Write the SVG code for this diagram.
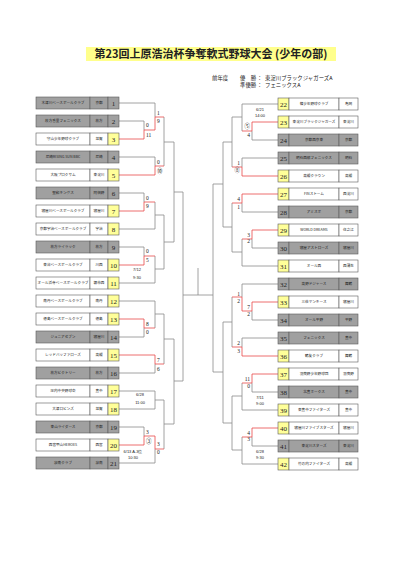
<svg xmlns="http://www.w3.org/2000/svg" width="401" height="568" viewBox="0 0 401 568">
<style>
text{font-family:"Noto Sans CJK JP","Noto Sans",sans-serif;fill:#222}
.c{stroke:#5a5a5a;stroke-width:0.6}
.g{fill:#a0a0a0}
.w{fill:#ffffff}
.y{fill:#ffff99}
.nm{font-size:3.6px;text-anchor:middle}
.pl{font-size:3.6px;text-anchor:middle}
.no{font-family:"Liberation Serif",serif;font-size:7px;text-anchor:middle}
.sl{font-family:"Liberation Serif","Noto Sans CJK JP",serif;font-size:5.5px;text-anchor:start}
.sr{font-family:"Liberation Serif","Noto Sans CJK JP",serif;font-size:5.5px;text-anchor:end}
.dt{font-family:"Liberation Sans",sans-serif;font-size:4px;text-anchor:middle}
.hd{font-size:5.4px}
#lines path{fill:none;stroke-width:0.8}
.gl{stroke:#8a8a8a}
.rl{stroke:#e84a4a}
</style>

<rect x="86" y="47" width="250" height="14" fill="#ffff8c"/>
<text x="211" y="58" font-size="11" font-weight="bold" text-anchor="middle">第23回上原浩治杯争奪軟式野球大会 (少年の部)</text>

<g id="header">
<text class="hd" x="212" y="80">前年度</text>
<text class="hd" x="240" y="80">優　勝</text>
<text class="hd" x="257" y="80">：</text>
<text class="hd" x="265" y="80">東淀川ブラックジャガーズA</text>
<text class="hd" x="240" y="87">準優勝</text>
<text class="hd" x="257" y="87">：</text>
<text class="hd" x="265" y="87">フェニックスA</text>
</g>

<g id="lines">
<path class="gl" d="M119,103H155V117 M119,121H144V130 M164,117V166 M164,142H174
M119,157H155V166 M119,193H144V202 M119,229H155 M155,202V229 M155,215H164
M119,247H144V256 M119,283H155 M155,256V283 M155,269H164 M164,215V269 M164,242H174
M174,142V242 M174,192H183
M119,301H155 M155,301V328 M155,314H164 M119,337H144V328 M119,373H155V364
M164,314V364 M164,339H174
M119,391H155 M119,409H155 M155,391V409 M155,400H164 M119,427H144V436 M119,463H155V449
M164,400V449 M164,424H174 M174,339V424 M174,381H183 M183,192V381
M183,295H213 M198,268V295
M278,104H242 M242,104V131 M242,117H232 M278,140H252V131
M278,158H242V167 M232,117V167 M232,142H223
M278,212H242V203 M278,248H252V239 M278,266H242 M242,239V266 M242,252H232
M232,203V252 M232,227H223 M223,142V227 M223,184H213
M278,284H242V297 M278,320H252V311 M278,338H242V347 M232,297V347 M232,322H223
M278,392H252V383 M278,410H242 M242,383V410 M242,396H232
M278,446H252V437 M278,464H242 M242,437V464 M242,450H232
M232,396V450 M232,423H223 M223,322V423 M223,372H213 M213,184V372"/>
<path class="rl" d="M119,139H144V130H155V117H164 M119,175H155V166H164
M119,211H144V202H155 M119,265H144V256H155 M119,319H144V328H155
M119,355H155V364H164 M119,445H144V436H155V449H164
M278,122H252V131H242 M278,176H242V167H232 M278,194H242V203H232
M278,230H252V239H242 M278,302H252V311H242V297H232 M278,356H242V347H232
M278,374H252V383H242 M278,428H252V437H242"/>
</g>

<g id="scores">
<text class="sl" x="146" y="127">0</text><text class="sl" x="146" y="137">11</text>
<text class="sl" x="157" y="115">1</text><text class="sl" x="157" y="123">9</text>
<text class="sl" x="157" y="164">0</text><text class="sl" x="157" y="173">⑩</text>
<text class="sl" x="146" y="200">0</text><text class="sl" x="146" y="208">9</text>
<text class="sl" x="146" y="253">0</text><text class="sl" x="146" y="262">5</text>
<text class="sl" x="146" y="326">8</text><text class="sl" x="146" y="334">0</text>
<text class="sl" x="157" y="362">7</text><text class="sl" x="157" y="371">6</text>
<text class="sl" x="146" y="434">3</text><text class="sl" x="146" y="443">③</text>
<text class="sl" x="157" y="446">3</text><text class="sl" x="157" y="454">0</text>
<text class="sr" x="250" y="128">⑤</text><text class="sr" x="250" y="137">4</text>
<text class="sr" x="240" y="165">1</text><text class="sr" x="240" y="172">⑧</text>
<text class="sr" x="240" y="201">4</text><text class="sr" x="240" y="209">1</text>
<text class="sr" x="250" y="237">3</text><text class="sr" x="250" y="243">2</text>
<text class="sr" x="240" y="296">1</text><text class="sr" x="240" y="303">2</text>
<text class="sr" x="250" y="309">7</text><text class="sr" x="250" y="316">2</text>
<text class="sr" x="240" y="345">2</text><text class="sr" x="240" y="353">3</text>
<text class="sr" x="250" y="381">11</text><text class="sr" x="250" y="388">0</text>
<text class="sr" x="250" y="435">4</text><text class="sr" x="250" y="441">3</text>
</g>

<g id="dates">
<text class="dt" x="260" y="110.5">6/21</text><text class="dt" x="260" y="116.5">14:00</text>
<text class="dt" x="137" y="271">7/12</text><text class="dt" x="137" y="278.5">9:30</text>
<text class="dt" x="140" y="395.5">6/28</text><text class="dt" x="140" y="404">11:00</text>
<text class="dt" x="133" y="453">6/13 A-3位</text><text class="dt" x="133" y="459">10:30</text>
<text class="dt" x="260" y="398.5">7/11</text><text class="dt" x="260" y="404.5">9:00</text>
<text class="dt" x="260" y="453">6/28</text><text class="dt" x="260" y="459">9:30</text>
</g>

<!-- left teams -->
<g id="t1"><rect class="c g" x="36" y="97" width="54" height="12"/><rect class="c g" x="90" y="97" width="18" height="12"/><rect class="c g" x="108" y="97" width="11" height="12"/><text class="nm" x="63" y="104.3">木津川ベースボールクラブ</text><text class="pl" x="99" y="104.3">京都</text><text class="no" x="113.5" y="105.5">1</text></g>
<g id="t2"><rect class="c g" x="36" y="115" width="54" height="12"/><rect class="c g" x="90" y="115" width="18" height="12"/><rect class="c g" x="108" y="115" width="11" height="12"/><text class="nm" x="63" y="122.3">枚方香里フェニックス</text><text class="pl" x="99" y="122.3">枚方</text><text class="no" x="113.5" y="123.5">2</text></g>
<g id="t3"><rect class="c w" x="36" y="133" width="54" height="12"/><rect class="c w" x="90" y="133" width="18" height="12"/><rect class="c y" x="108" y="133" width="11" height="12"/><text class="nm" x="63" y="140.3">守山少年野球クラブ</text><text class="pl" x="99" y="140.3">滋賀</text><text class="no" x="113.5" y="141.5">3</text></g>
<g id="t4"><rect class="c g" x="36" y="151" width="54" height="12"/><rect class="c g" x="90" y="151" width="18" height="12"/><rect class="c g" x="108" y="151" width="11" height="12"/><text class="nm" x="63" y="158.3">尼崎RISING SUN BBC</text><text class="pl" x="99" y="158.3">尼崎</text><text class="no" x="113.5" y="159.5">4</text></g>
<g id="t5"><rect class="c w" x="36" y="169" width="54" height="12"/><rect class="c w" x="90" y="169" width="18" height="12"/><rect class="c y" x="108" y="169" width="11" height="12"/><text class="nm" x="63" y="176.3">大阪プロクサム</text><text class="pl" x="99" y="176.3">東淀川</text><text class="no" x="113.5" y="177.5">5</text></g>
<g id="t6"><rect class="c g" x="36" y="187" width="54" height="12"/><rect class="c g" x="90" y="187" width="18" height="12"/><rect class="c g" x="108" y="187" width="11" height="12"/><text class="nm" x="63" y="194.3">聖和キングス</text><text class="pl" x="99" y="194.3">阿倍野</text><text class="no" x="113.5" y="195.5">6</text></g>
<g id="t7"><rect class="c w" x="36" y="205" width="54" height="12"/><rect class="c w" x="90" y="205" width="18" height="12"/><rect class="c y" x="108" y="205" width="11" height="12"/><text class="nm" x="63" y="212.3">寝屋川ベースボールクラブ</text><text class="pl" x="99" y="212.3">寝屋川</text><text class="no" x="113.5" y="213.5">7</text></g>
<g id="t8"><rect class="c w" x="36" y="223" width="54" height="12"/><rect class="c w" x="90" y="223" width="18" height="12"/><rect class="c y" x="108" y="223" width="11" height="12"/><text class="nm" x="63" y="230.3">京都宇治ベースボールクラブ</text><text class="pl" x="99" y="230.3">宇治</text><text class="no" x="113.5" y="231.5">8</text></g>
<g id="t9"><rect class="c g" x="36" y="241" width="54" height="12"/><rect class="c g" x="90" y="241" width="18" height="12"/><rect class="c g" x="108" y="241" width="11" height="12"/><text class="nm" x="63" y="248.3">枚方ライラック</text><text class="pl" x="99" y="248.3">枚方</text><text class="no" x="113.5" y="249.5">9</text></g>
<g id="t10"><rect class="c w" x="36" y="259" width="54" height="12"/><rect class="c w" x="90" y="259" width="18" height="12"/><rect class="c y" x="108" y="259" width="11" height="12"/><text class="nm" x="63" y="266.3">東谷ベースボールクラブ</text><text class="pl" x="99" y="266.3">川西</text><text class="no" x="113.5" y="267.5">10</text></g>
<g id="t11"><rect class="c w" x="36" y="277" width="54" height="12"/><rect class="c w" x="90" y="277" width="18" height="12"/><rect class="c y" x="108" y="277" width="11" height="12"/><text class="nm" x="63" y="284.3" textLength="51" lengthAdjust="spacingAndGlyphs">オール浜寺ベースボールクラブ</text><text class="pl" x="99" y="284.3">堺市西</text><text class="no" x="113.5" y="285.5">11</text></g>
<g id="t12"><rect class="c w" x="36" y="295" width="54" height="12"/><rect class="c w" x="90" y="295" width="18" height="12"/><rect class="c y" x="108" y="295" width="11" height="12"/><text class="nm" x="63" y="302.3">南丹ベースボールクラブ</text><text class="pl" x="99" y="302.3">南丹</text><text class="no" x="113.5" y="303.5">12</text></g>
<g id="t13"><rect class="c w" x="36" y="313" width="54" height="12"/><rect class="c w" x="90" y="313" width="18" height="12"/><rect class="c y" x="108" y="313" width="11" height="12"/><text class="nm" x="63" y="320.3">徳島ベースボールクラブ</text><text class="pl" x="99" y="320.3">徳島</text><text class="no" x="113.5" y="321.5">13</text></g>
<g id="t14"><rect class="c g" x="36" y="331" width="54" height="12"/><rect class="c g" x="90" y="331" width="18" height="12"/><rect class="c g" x="108" y="331" width="11" height="12"/><text class="nm" x="63" y="338.3">ジュニアセブン</text><text class="pl" x="99" y="338.3">寝屋川</text><text class="no" x="113.5" y="339.5">14</text></g>
<g id="t15"><rect class="c w" x="36" y="349" width="54" height="12"/><rect class="c w" x="90" y="349" width="18" height="12"/><rect class="c y" x="108" y="349" width="11" height="12"/><text class="nm" x="63" y="356.3">レッドバッファローズ</text><text class="pl" x="99" y="356.3">高槻</text><text class="no" x="113.5" y="357.5">15</text></g>
<g id="t16"><rect class="c g" x="36" y="367" width="54" height="12"/><rect class="c g" x="90" y="367" width="18" height="12"/><rect class="c g" x="108" y="367" width="11" height="12"/><text class="nm" x="63" y="374.3">枚方ビクトリー</text><text class="pl" x="99" y="374.3">枚方</text><text class="no" x="113.5" y="375.5">16</text></g>
<g id="t17"><rect class="c w" x="36" y="385" width="54" height="12"/><rect class="c w" x="90" y="385" width="18" height="12"/><rect class="c y" x="108" y="385" width="11" height="12"/><text class="nm" x="63" y="392.3">庄内中央野球会</text><text class="pl" x="99" y="392.3">豊中</text><text class="no" x="113.5" y="393.5">17</text></g>
<g id="t18"><rect class="c w" x="36" y="403" width="54" height="12"/><rect class="c w" x="90" y="403" width="18" height="12"/><rect class="c y" x="108" y="403" width="11" height="12"/><text class="nm" x="63" y="410.3">大津ロビンズ</text><text class="pl" x="99" y="410.3">滋賀</text><text class="no" x="113.5" y="411.5">18</text></g>
<g id="t19"><rect class="c g" x="36" y="421" width="54" height="12"/><rect class="c g" x="90" y="421" width="18" height="12"/><rect class="c g" x="108" y="421" width="11" height="12"/><text class="nm" x="63" y="428.3">東山ライダース</text><text class="pl" x="99" y="428.3">京都</text><text class="no" x="113.5" y="429.5">19</text></g>
<g id="t20"><rect class="c w" x="36" y="439" width="54" height="12"/><rect class="c w" x="90" y="439" width="18" height="12"/><rect class="c y" x="108" y="439" width="11" height="12"/><text class="nm" x="63" y="446.3">西宮甲山HEROES</text><text class="pl" x="99" y="446.3">西宮</text><text class="no" x="113.5" y="447.5">20</text></g>
<g id="t21"><rect class="c g" x="36" y="457" width="54" height="12"/><rect class="c g" x="90" y="457" width="18" height="12"/><rect class="c g" x="108" y="457" width="11" height="12"/><text class="nm" x="63" y="464.3">泉南クラブ</text><text class="pl" x="99" y="464.3">泉南</text><text class="no" x="113.5" y="465.5">21</text></g>

<!-- right teams -->
<g id="t22"><rect class="c y" x="278" y="98" width="11" height="12"/><rect class="c w" x="289" y="98" width="50" height="12"/><rect class="c w" x="339" y="98" width="19" height="12"/><text class="no" x="283.5" y="106.5">22</text><text class="nm" x="314" y="105.3">篠少年野球クラブ</text><text class="pl" x="348.5" y="105.3">亀岡</text></g>
<g id="t23"><rect class="c y" x="278" y="116" width="11" height="12"/><rect class="c w" x="289" y="116" width="50" height="12"/><rect class="c w" x="339" y="116" width="19" height="12"/><text class="no" x="283.5" y="124.5">23</text><text class="nm" x="314" y="123.3">東淀川ブラックジャガーズ</text><text class="pl" x="348.5" y="123.3">東淀川</text></g>
<g id="t24"><rect class="c g" x="278" y="134" width="11" height="12"/><rect class="c g" x="289" y="134" width="50" height="12"/><rect class="c g" x="339" y="134" width="19" height="12"/><text class="no" x="283.5" y="142.5">24</text><text class="nm" x="314" y="141.3">京都西京東</text><text class="pl" x="348.5" y="141.3">京都</text></g>
<g id="t25"><rect class="c g" x="278" y="152" width="11" height="12"/><rect class="c g" x="289" y="152" width="50" height="12"/><rect class="c g" x="339" y="152" width="19" height="12"/><text class="no" x="283.5" y="160.5">25</text><text class="nm" x="314" y="159.3">明石西部フェニックス</text><text class="pl" x="348.5" y="159.3">明石</text></g>
<g id="t26"><rect class="c y" x="278" y="170" width="11" height="12"/><rect class="c w" x="289" y="170" width="50" height="12"/><rect class="c w" x="339" y="170" width="19" height="12"/><text class="no" x="283.5" y="178.5">26</text><text class="nm" x="314" y="177.3">高槻クラウン</text><text class="pl" x="348.5" y="177.3">高槻</text></g>
<g id="t27"><rect class="c y" x="278" y="188" width="11" height="12"/><rect class="c w" x="289" y="188" width="50" height="12"/><rect class="c w" x="339" y="188" width="19" height="12"/><text class="no" x="283.5" y="196.5">27</text><text class="nm" x="314" y="195.3">FINストーム</text><text class="pl" x="348.5" y="195.3">西淀川</text></g>
<g id="t28"><rect class="c g" x="278" y="206" width="11" height="12"/><rect class="c g" x="289" y="206" width="50" height="12"/><rect class="c g" x="339" y="206" width="19" height="12"/><text class="no" x="283.5" y="214.5">28</text><text class="nm" x="314" y="213.3">アミスポ</text><text class="pl" x="348.5" y="213.3">京都</text></g>
<g id="t29"><rect class="c y" x="278" y="224" width="11" height="12"/><rect class="c w" x="289" y="224" width="50" height="12"/><rect class="c w" x="339" y="224" width="19" height="12"/><text class="no" x="283.5" y="232.5">29</text><text class="nm" x="314" y="231.3">WORLD DREAMS</text><text class="pl" x="348.5" y="231.3">住之江</text></g>
<g id="t30"><rect class="c g" x="278" y="242" width="11" height="12"/><rect class="c g" x="289" y="242" width="50" height="12"/><rect class="c g" x="339" y="242" width="19" height="12"/><text class="no" x="283.5" y="250.5">30</text><text class="nm" x="314" y="249.3">寝屋アストローズ</text><text class="pl" x="348.5" y="249.3">寝屋川</text></g>
<g id="t31"><rect class="c y" x="278" y="260" width="11" height="12"/><rect class="c w" x="289" y="260" width="50" height="12"/><rect class="c w" x="339" y="260" width="19" height="12"/><text class="no" x="283.5" y="268.5">31</text><text class="nm" x="314" y="267.3">オール西</text><text class="pl" x="348.5" y="267.3">西蒲生</text></g>
<g id="t32"><rect class="c g" x="278" y="278" width="11" height="12"/><rect class="c g" x="289" y="278" width="50" height="12"/><rect class="c g" x="339" y="278" width="19" height="12"/><text class="no" x="283.5" y="286.5">32</text><text class="nm" x="314" y="285.3">高野ドジャース</text><text class="pl" x="348.5" y="285.3">舞鶴</text></g>
<g id="t33"><rect class="c y" x="278" y="296" width="11" height="12"/><rect class="c w" x="289" y="296" width="50" height="12"/><rect class="c w" x="339" y="296" width="19" height="12"/><text class="no" x="283.5" y="304.5">33</text><text class="nm" x="314" y="303.3">三荘ヤンキース</text><text class="pl" x="348.5" y="303.3">寝屋川</text></g>
<g id="t34"><rect class="c g" x="278" y="314" width="11" height="12"/><rect class="c g" x="289" y="314" width="50" height="12"/><rect class="c g" x="339" y="314" width="19" height="12"/><text class="no" x="283.5" y="322.5">34</text><text class="nm" x="314" y="321.3">オール平野</text><text class="pl" x="348.5" y="321.3">平野</text></g>
<g id="t35"><rect class="c g" x="278" y="332" width="11" height="12"/><rect class="c g" x="289" y="332" width="50" height="12"/><rect class="c g" x="339" y="332" width="19" height="12"/><text class="no" x="283.5" y="340.5">35</text><text class="nm" x="314" y="339.3">フェニックス</text><text class="pl" x="348.5" y="339.3">豊中</text></g>
<g id="t36"><rect class="c y" x="278" y="350" width="11" height="12"/><rect class="c w" x="289" y="350" width="50" height="12"/><rect class="c w" x="339" y="350" width="19" height="12"/><text class="no" x="283.5" y="358.5">36</text><text class="nm" x="314" y="357.3">鶴友クラブ</text><text class="pl" x="348.5" y="357.3">舞鶴</text></g>
<g id="t37"><rect class="c y" x="278" y="368" width="11" height="12"/><rect class="c w" x="289" y="368" width="50" height="12"/><rect class="c w" x="339" y="368" width="19" height="12"/><text class="no" x="283.5" y="376.5">37</text><text class="nm" x="314" y="375.3">羽曳野少年野球団</text><text class="pl" x="348.5" y="375.3">羽曳野</text></g>
<g id="t38"><rect class="c g" x="278" y="386" width="11" height="12"/><rect class="c g" x="289" y="386" width="50" height="12"/><rect class="c g" x="339" y="386" width="19" height="12"/><text class="no" x="283.5" y="394.5">38</text><text class="nm" x="314" y="393.3">北豊ホークス</text><text class="pl" x="348.5" y="393.3">豊中</text></g>
<g id="t39"><rect class="c y" x="278" y="404" width="11" height="12"/><rect class="c w" x="289" y="404" width="50" height="12"/><rect class="c w" x="339" y="404" width="19" height="12"/><text class="no" x="283.5" y="412.5">39</text><text class="nm" x="314" y="411.3">東豊中ファイターズ</text><text class="pl" x="348.5" y="411.3">豊中</text></g>
<g id="t40"><rect class="c y" x="278" y="422" width="11" height="12"/><rect class="c w" x="289" y="422" width="50" height="12"/><rect class="c w" x="339" y="422" width="19" height="12"/><text class="no" x="283.5" y="430.5">40</text><text class="nm" x="314" y="429.3">寝屋川ファイブスターズ</text><text class="pl" x="348.5" y="429.3">寝屋川</text></g>
<g id="t41"><rect class="c g" x="278" y="440" width="11" height="12"/><rect class="c g" x="289" y="440" width="50" height="12"/><rect class="c g" x="339" y="440" width="19" height="12"/><text class="no" x="283.5" y="448.5">41</text><text class="nm" x="314" y="447.3">東淀川スターズ</text><text class="pl" x="348.5" y="447.3">東淀川</text></g>
<g id="t42"><rect class="c y" x="278" y="458" width="11" height="12"/><rect class="c w" x="289" y="458" width="50" height="12"/><rect class="c w" x="339" y="458" width="19" height="12"/><text class="no" x="283.5" y="466.5">42</text><text class="nm" x="314" y="465.3">竹の内ファイターズ</text><text class="pl" x="348.5" y="465.3">高槻</text></g>
</svg>
